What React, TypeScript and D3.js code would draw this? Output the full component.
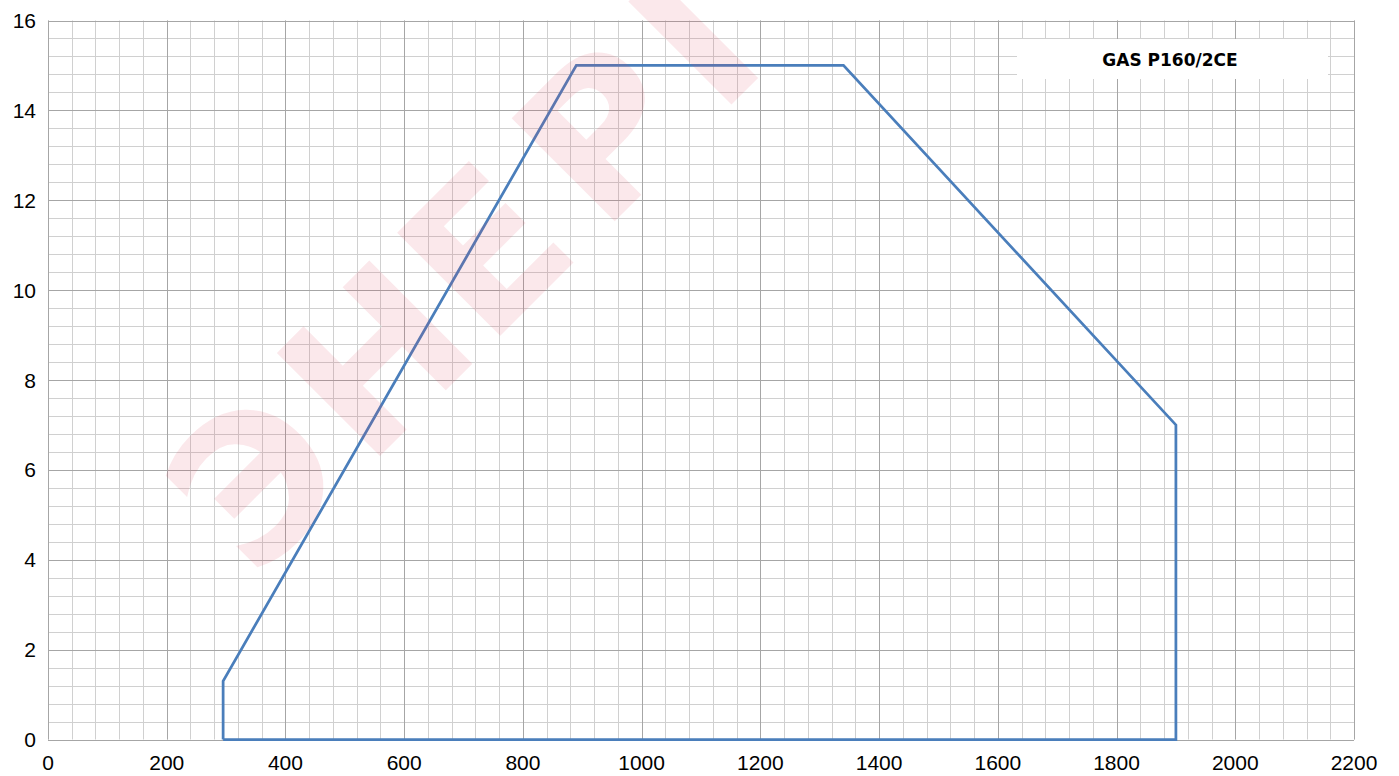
import React, { useEffect, useRef } from 'react';
import * as d3 from 'd3';

// outline of the working field (x: output, y: pressure)
const fieldX = [295, 295, 890, 1340, 1900, 1900, 295];
const fieldY = [0, 1.3, 15, 15, 7, 0, 0];

const xTicks = [0, 200, 400, 600, 800, 1000, 1200, 1400, 1600, 1800, 2000, 2200];
const yTicks = [0, 2, 4, 6, 8, 10, 12, 14, 16];

const legendLabel = 'GAS P160/2CE';
const watermark = ['Э', 'Н', 'Е', 'Р', 'Г'];

const W = 1399;
const H = 776;

const App = () => {
  const svgRef = useRef<SVGSVGElement>(null);

  useEffect(() => {
    const svg = d3.select(svgRef.current);
    svg.selectAll('*').remove();

    const x = d3.scaleLinear().domain([0, 2200]).range([48, 1354]);
    const y = d3.scaleLinear().domain([0, 16]).range([739.5, 20.5]);

    const g = svg.append('g');

    // minor grid
    const xMinor = d3.range(0, 2201, 40);
    const yMinor = d3.range(0, 16.01, 0.4);
    g.selectAll('line.xm')
      .data(xMinor)
      .join('line')
      .attr('x1', d => Math.round(x(d)) + 0.5)
      .attr('x2', d => Math.round(x(d)) + 0.5)
      .attr('y1', y(0))
      .attr('y2', y(16))
      .attr('stroke', '#d0d0d0')
      .attr('stroke-width', 1);
    g.selectAll('line.ym')
      .data(yMinor)
      .join('line')
      .attr('y1', d => Math.round(y(d)) + 0.5)
      .attr('y2', d => Math.round(y(d)) + 0.5)
      .attr('x1', x(0))
      .attr('x2', x(2200))
      .attr('stroke', '#d0d0d0')
      .attr('stroke-width', 1);

    // major grid
    g.selectAll('line.xM')
      .data(xTicks)
      .join('line')
      .attr('x1', d => Math.round(x(d)) + 0.5)
      .attr('x2', d => Math.round(x(d)) + 0.5)
      .attr('y1', y(0))
      .attr('y2', y(16))
      .attr('stroke', '#a6a6a6')
      .attr('stroke-width', 1);
    g.selectAll('line.yM')
      .data(yTicks)
      .join('line')
      .attr('y1', d => Math.round(y(d)) + 0.5)
      .attr('y2', d => Math.round(y(d)) + 0.5)
      .attr('x1', x(0))
      .attr('x2', x(2200))
      .attr('stroke', '#a6a6a6')
      .attr('stroke-width', 1);

    // legend box
    g.append('rect')
      .attr('x', 1017)
      .attr('y', 39)
      .attr('width', 311)
      .attr('height', 40)
      .attr('fill', '#fff');
    g.append('text')
      .attr('x', 1170)
      .attr('y', 59.5)
      .attr('dy', '0.36em')
      .attr('text-anchor', 'middle')
      .style('font-family', '"DejaVu Sans", sans-serif')
      .style('font-weight', 'bold')
      .style('font-size', '17px')
      .attr('fill', '#000')
      .text(legendLabel);

    // field outline
    const line = d3.line<number>()
      .x((_, i) => x(fieldX[i]))
      .y((_, i) => y(fieldY[i]));
    g.append('path')
      .attr('d', line(fieldX))
      .attr('fill', 'none')
      .attr('stroke', '#4a7ebb')
      .attr('stroke-width', 2.75)
      .attr('stroke-linejoin', 'miter');

    // watermark on top, letters spread along the diagonal
    const wm = g.append('text')
      .attr('transform', 'translate(261,575) rotate(-45)')
      .style('font-family', '"DejaVu Sans", sans-serif')
      .style('font-weight', 'bold')
      .style('font-size', '200px')
      .attr('fill', '#e0405a')
      .attr('fill-opacity', 0.12);
    wm.selectAll('tspan')
      .data(watermark)
      .join('tspan')
      .attr('x', (_, i) => [-10, 150, 320, 482, 647][i])
      .attr('y', 0)
      .text(d => d);

    // tick labels
    g.selectAll('text.xl')
      .data(xTicks)
      .join('text')
      .attr('x', d => x(d))
      .attr('y', 770)
      .attr('text-anchor', 'middle')
      .style('font-family', '"Liberation Sans", Arial, sans-serif')
      .style('font-size', '21px')
      .attr('fill', '#000')
      .text(d => d);
    g.selectAll('text.yl')
      .data(yTicks)
      .join('text')
      .attr('x', 36)
      .attr('y', d => y(d))
      .attr('dy', '0.36em')
      .attr('text-anchor', 'end')
      .style('font-family', '"Liberation Sans", Arial, sans-serif')
      .style('font-size', '21px')
      .attr('fill', '#000')
      .text(d => d);
  }, []);

  return (
    <svg
      ref={svgRef}
      width={W}
      height={H}
      style={{ position: 'absolute', left: 0, top: 0, background: '#fff' }}
    />
  );
};

export default App;
